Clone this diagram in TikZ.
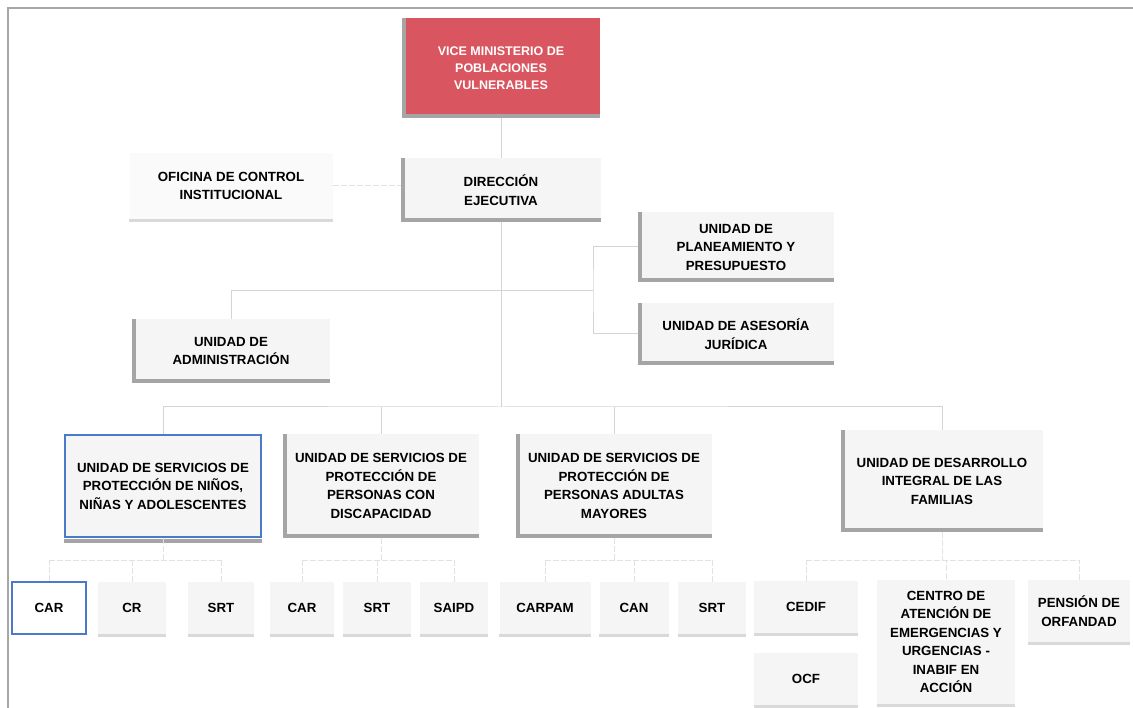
\documentclass[tikz,border=0pt]{standalone}
\usepackage{fontspec}
\setmainfont{Liberation Sans}
\usepackage{tikz}
\usetikzlibrary{positioning,calc,backgrounds}
\definecolor{vmred}{HTML}{D9555F}
\definecolor{boxfill}{HTML}{F5F5F5}
\definecolor{shade}{HTML}{A5A5A5}
\definecolor{selblue}{HTML}{4A7BC8}
\definecolor{wire}{HTML}{D4D4D4}
\newcommand{\orgfont}{\fontsize{13.3}{18.5}\selectfont\bfseries}
\newcommand{\vmfont}{\fontsize{12.5}{17}\selectfont\bfseries}

\tikzset{
  unit/.style={fill=boxfill, align=center, inner sep=2pt, font=\orgfont},
  leaf/.style={unit, minimum height=52pt},
  wire/.style={draw=wire, line width=1pt},
  subwire/.style={draw=wire!70, line width=1pt, dash pattern=on 6pt off 2pt},
  shadowL/.style={draw=shade, line width=4pt},
  shadowB/.style={draw=gray!30, line width=3pt},
  picked/.style={draw=selblue, line width=2.5pt},
}

\begin{document}
\begin{tikzpicture}[x=1pt, y=-1pt]
  \useasboundingbox (0,0) rectangle (1133,708);
  \draw[gray!70, line width=1.2pt] (8,708) -- (8,8) -- (1133,8);

  % top levels
  \node[unit, fill=vmred, text=white, font=\vmfont, minimum width=198pt, minimum height=100pt] (vice) at (501,68) {VICE MINISTERIO DE\\POBLACIONES\\VULNERABLES};
  \node[unit, fill=boxfill!50, minimum width=203pt, minimum height=66pt] (ofi) at (231,186) {OFICINA DE CONTROL\\INSTITUCIONAL};
  \node[unit, minimum width=200pt, minimum height=64pt] (dir) at (501,190) {DIRECCIÓN\\EJECUTIVA};
  \node[unit, minimum width=195pt, minimum height=70pt] (plan) at (736,247) {UNIDAD DE\\PLANEAMIENTO Y\\PRESUPUESTO};
  \node[unit, minimum width=195pt, minimum height=62pt] (ases) at (736,334) {UNIDAD DE ASESORÍA\\JURÍDICA};
  \node[unit, minimum width=197pt, minimum height=63pt] (adm) at (231,351) {UNIDAD DE\\ADMINISTRACIÓN};

  % unidades de servicios
  \node[unit, picked, minimum width=196pt, minimum height=102pt] (nna) at (163,486) {UNIDAD DE SERVICIOS DE\\PROTECCIÓN DE NIÑOS,\\NIÑAS Y ADOLESCENTES};
  \node[unit, minimum width=195pt, minimum height=104pt] (disc) at (381,486) {UNIDAD DE SERVICIOS DE\\PROTECCIÓN DE\\PERSONAS CON\\DISCAPACIDAD};
  \node[unit, minimum width=196pt, minimum height=104pt] (may) at (614,486) {UNIDAD DE SERVICIOS DE\\PROTECCIÓN DE\\PERSONAS ADULTAS\\MAYORES};
  \node[unit, minimum width=201pt, minimum height=102pt] (des) at (942,481) {UNIDAD DE DESARROLLO\\INTEGRAL DE LAS\\FAMILIAS};

  % centros y servicios
  \node[leaf, fill=white, picked, minimum width=74pt] (car1) at (49,608) {CAR};
  \node[leaf, minimum width=68pt] (cr) at (132,608) {CR};
  \node[leaf, minimum width=66pt] (srt1) at (221,608) {SRT};
  \node[leaf, minimum width=64pt] (car2) at (302,608) {CAR};
  \node[leaf, minimum width=68pt] (srt2) at (377,608) {SRT};
  \node[leaf, minimum width=68pt] (saipd) at (454,608) {SAIPD};
  \node[leaf, minimum width=91pt] (carpam) at (545,608) {CARPAM};
  \node[leaf, minimum width=69pt] (can) at (634,608) {CAN};
  \node[leaf, minimum width=68pt] (srt3) at (712,608) {SRT};
  \node[leaf, minimum width=104pt] (cedif) at (806,607) {CEDIF};
  \node[leaf, minimum width=104pt] (ocf) at (806,679) {OCF};
  \node[unit, minimum width=138pt, minimum height=125pt] (cen) at (946,642) {CENTRO DE\\ATENCIÓN DE\\EMERGENCIAS Y\\URGENCIAS -\\INABIF EN\\ACCIÓN};
  \node[unit, minimum width=102pt, minimum height=62pt] (pen) at (1079,611) {PENSIÓN DE\\ORFANDAD};

  % sombras
  \foreach \n in {vice,dir,plan,ases,adm,disc,may,des}
    \draw[shadowL] ([xshift=2pt]\n.north west) -- ([xshift=2pt,yshift=2pt]\n.south west) -- ([yshift=2pt]\n.south east);
  \draw[shadowL] ([yshift=-3pt]nna.south west) -- ([yshift=-3pt]nna.south east);
  \foreach \n in {ofi,cr,srt1,car2,srt2,saipd,carpam,can,srt3,cedif,ocf,cen,pen}
    \draw[shadowB] ([yshift=-1pt]\n.south west) -- ([yshift=-1pt]\n.south east);

  % conectores
  \coordinate (hub) at (501,407);
  \coordinate (brk) at (593,291);
  \draw[wire] (vice) -- (dir);
  \draw[subwire] (ofi.east) -- (ofi.east -| dir.west);
  \draw[wire] (dir.south) -- (hub);
  \draw[wire] (plan.west) -| (brk) |- (ases.west);
  \draw[wire] (adm.north) |- (brk);
  \draw[wire] (nna.north) |- (hub) -| (des.north);
  \draw[wire] (disc.north) -- (disc.north |- hub);
  \draw[wire] (may.north) -- (may.north |- hub);
  \foreach \u/\a/\b in {nna/car1/srt1, disc/car2/saipd, may/carpam/srt3, des/cedif/pen}
    \draw[subwire] (\u.south) -- (\u.south |- 0,560) (\a.north |- 0,560) -- (\b.north |- 0,560);
  \foreach \l in {car1,cr,srt1,car2,srt2,saipd,carpam,can,srt3,cedif,cen,pen}
    \draw[subwire] (\l.north) -- (\l.north |- 0,560);
\end{tikzpicture}
\end{document}
